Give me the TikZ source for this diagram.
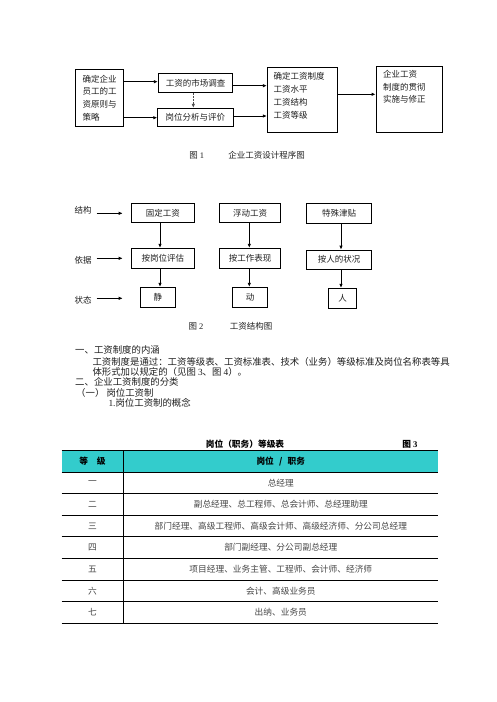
\documentclass[tikz,border=0pt]{standalone}
\usepackage{fontspec}
\setmainfont{Noto Sans CJK SC}
\newfontfamily\lat{Liberation Serif}
\usetikzlibrary{arrows.meta}
\definecolor{teal1}{RGB}{51,204,204}
\definecolor{txt}{RGB}{30,30,30}
\definecolor{tgray}{RGB}{70,70,70}
\tikzset{
  box/.style={draw=black, line width=0.9pt, inner sep=0pt, font=\fontsize{8.5}{12.8}\selectfont, text=txt},
  arr/.style={line width=0.8pt, -{Latex[length=4pt,width=3.5pt]}},
  dasharr/.style={line width=0.8pt, dash pattern=on 2pt off 1pt, draw=black!70, -{Latex[length=4pt,width=3.5pt]}},
  txtn/.style={inner sep=0pt, font=\fontsize{8.5}{12.8}\selectfont, text=txt},
  body/.style={inner sep=0pt, anchor=west, font=\fontsize{9.4}{11}\selectfont, text=txt},
  cell/.style={inner sep=0pt, font=\fontsize{8.7}{11}\selectfont, text=tgray},
  hcell/.style={inner sep=0pt, font=\fontsize{8.7}{11}\selectfont\bfseries, text=black},
  tline/.style={line width=0.9pt, draw=black}
}
\begin{document}
\begin{tikzpicture}[x=1pt,y=-1pt]
\useasboundingbox (0,0) rectangle (496,702);
% ---------- Figure 1 ----------
\node[box, minimum width=47.6pt, minimum height=57.7pt, align=left] (A) at (99.5,98) {确定企业\\员工的工\\资原则与\\策略};
\node[box, minimum width=74.4pt, minimum height=19pt] (B) at (195.5,82.8) {工资的市场调查};
\node[box, minimum width=75.3pt, minimum height=18.4pt] (C) at (195.4,117.5) {岗位分析与评价};
\node[box, minimum width=70.4pt, minimum height=65pt] (D) at (302.5,99.8) {};
\node[txtn, anchor=north west, align=left] (Dt) at (273.5,72.5) {确定工资制度\\工资水平\\工资结构\\工资等级};
\node[box, minimum width=66.3pt, minimum height=65.6pt] (E) at (409.2,99.5) {};
\node[txtn, anchor=north west, align=left] (Et) at (383,69.8) {企业工资\\制度的贯彻\\实施与修正};
\draw[arr] (A.east |- 0,81.7) -- (B.west |- 0,81.7);
\draw[arr] (A.east |- 0,117.7) -- (C.west |- 0,117.7);
\draw[arr] (B.east |- 0,85.7) -- (D.west |- 0,85.7);
\draw[arr] (C.east |- 0,116) -- (D.west |- 0,116);
\draw[arr] (D.east |- 0,94.3) -- (E.west |- 0,94.3);
\draw[dasharr] (B.south -| 193.3,0) -- (C.north -| 193.3,0);
\node[txtn] (cap1a) at (196.7,155.7) {图 {\lat 1}};
\node[txtn] (cap1b) at (266.7,155.7) {企业工资设计程序图};
% ---------- Figure 2 ----------
\node[txtn] (L1) at (83,210) {结构};
\node[txtn] (L2) at (83,260.7) {依据};
\node[txtn] (L3) at (83,300) {状态};
\node[box, minimum width=62.3pt, minimum height=19pt] (F1) at (162.8,212.8) {固定工资};
\node[box, minimum width=61.4pt, minimum height=19pt] (F2) at (250,212.8) {浮动工资};
\node[box, minimum width=65pt, minimum height=20pt] (F3) at (339.2,213.3) {特殊津贴};
\node[box, minimum width=62.3pt, minimum height=20pt] (G1) at (162.8,258.3) {按岗位评估};
\node[box, minimum width=61.4pt, minimum height=20pt] (G2) at (250,258.3) {按工作表现};
\node[box, minimum width=65pt, minimum height=19.3pt] (G3) at (339.2,259.7) {按人的状况};
\node[box, minimum width=35.7pt, minimum height=20.4pt] (H1) at (157.8,297.5) {静};
\node[box, minimum width=35.4pt, minimum height=20.4pt] (H2) at (250,297.5) {动};
\node[box, minimum width=28.4pt, minimum height=20pt] (H3) at (342.5,298.3) {人};
\coordinate (a1s) at (96.7,213.3); \coordinate (a1e) at (122.7,213.3);
\coordinate (a2s) at (96.7,258.3); \coordinate (a2e) at (122.7,258.3);
\coordinate (a3s) at (96.7,298.3); \coordinate (a3e) at (122.7,298.3);
\draw[arr] (a1s) -- (a1e);
\draw[arr] (a2s) -- (a2e);
\draw[arr] (a3s) -- (a3e);
\draw[arr] (F1.south -| 160,0) -- (G1.north -| 160,0);
\draw[arr] (G1.south -| 160,0) -- (H1.north -| 160,0);
\draw[arr] (F2.south -| 249.3,0) -- (G2.north -| 249.3,0);
\draw[arr] (G2.south -| 249.3,0) -- (H2.north -| 249.3,0);
\draw[arr] (F3.south -| 341,0) -- (G3.north -| 341,0);
\draw[arr] (G3.south -| 341,0) -- (H3.north -| 341,0);
\node[txtn] (cap2a) at (196,326) {图 {\lat 2}};
\node[txtn] (cap2b) at (251,326) {工资结构图};
% ---------- Text ----------
\node[body] (t1) at (75,350) {一、工资制度的内涵};
\node[body] (t2) at (92.3,361.7) {工资制度是通过：工资等级表、工资标准表、技术（业务）等级标准及岗位名称表等具};
\node[body] (t3) at (92.3,372.3) {体形式加以规定的（见图 {\lat 3}、图 {\lat 4}）。};
\node[body] (t4) at (75,382.3) {二、企业工资制度的分类};
\node[body] (t5) at (76,392.7) {（一） 岗位工资制};
\node[body] (t6) at (108.3,403.3) {{\lat 1.}岗位工资制的概念};
% ---------- Table ----------
\node[hcell] (ttl) at (245,444) {岗位（职务）等级表};
\node[hcell] (ttl3) at (410,444) {图 {\lat 3}};
\fill[teal1] (61.7,450) rectangle (438.3,472.3);
\draw[line width=0.6pt] (61.7,450) -- (438.3,450);
\foreach \yy in {472.3,493.3,515,536.7,558.3,580,601.7,623.3}
  \draw[tline] (61.7,\yy) -- (438.3,\yy);
\draw[tline] (123.3,450) -- (123.3,623.3);
\node[hcell] (h1) at (92.5,461.2) {等\hspace{1em}级};
\node[hcell] (h2) at (280.8,461.2) {岗位\hspace{0.6em}/\hspace{0.6em}职务};
\node[cell] (r1a) at (92.5,482.8) {一};
\node[cell] (r1b) at (280.8,482.8) {总经理};
\node[cell] (r2a) at (92.5,504.2) {二};
\node[cell] (r2b) at (280.8,504.2) {副总经理、总工程师、总会计师、总经理助理};
\node[cell] (r3a) at (92.5,525.8) {三};
\node[cell] (r3b) at (280.8,525.8) {部门经理、高级工程师、高级会计师、高级经济师、分公司总经理};
\node[cell] (r4a) at (92.5,547.5) {四};
\node[cell] (r4b) at (280.8,547.5) {部门副经理、分公司副总经理};
\node[cell] (r5a) at (92.5,569.2) {五};
\node[cell] (r5b) at (280.8,569.2) {项目经理、业务主管、工程师、会计师、经济师};
\node[cell] (r6a) at (92.5,590.8) {六};
\node[cell] (r6b) at (280.8,590.8) {会计、高级业务员};
\node[cell] (r7a) at (92.5,612.5) {七};
\node[cell] (r7b) at (280.8,612.5) {出纳、业务员};
\end{tikzpicture}
\end{document}
